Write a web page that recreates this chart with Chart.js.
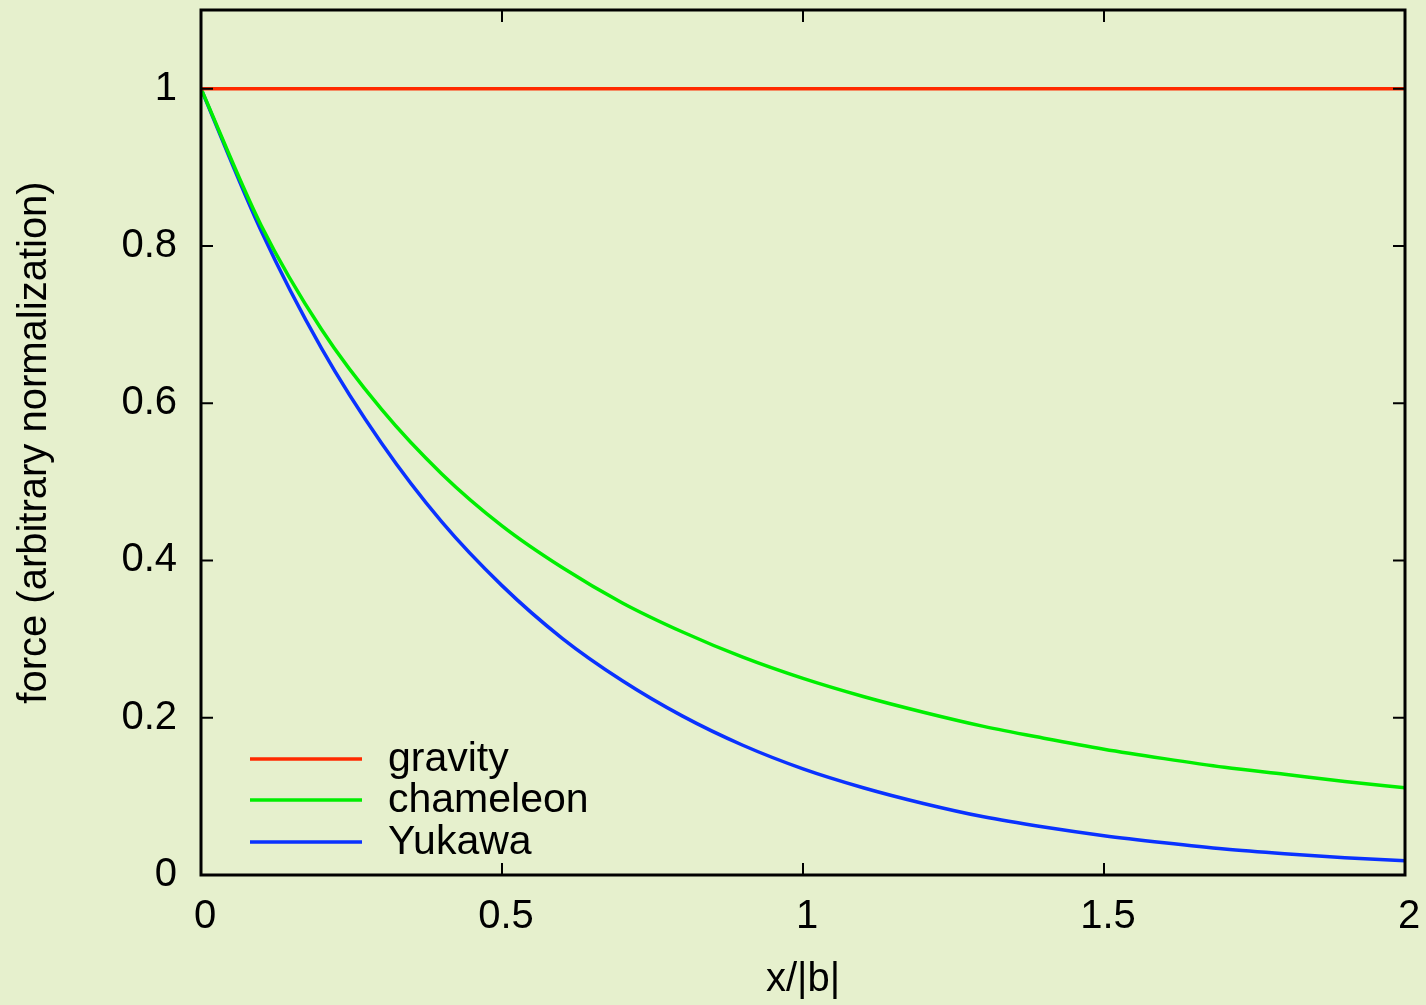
<!DOCTYPE html>
<html>
<head>
<meta charset="utf-8">
<script src="https://cdn.jsdelivr.net/npm/chart.js@4/dist/chart.umd.min.js"></script>
<style>
  html, body { margin: 0; padding: 0; background: #e6f0cd; }
  #wrap { width: 1426px; height: 1005px; }
</style>
</head>
<body>
<div id="wrap"><canvas id="forceChart" width="1426" height="1005"></canvas></div>
<script>
const xValues = [0, 0.1, 0.2, 0.3, 0.4, 0.5, 0.6, 0.7, 0.8, 0.9, 1.0,
                 1.1, 1.2, 1.3, 1.4, 1.5, 1.6, 1.7, 1.8, 1.9, 2.0];
const gravity = [1, 1, 1, 1, 1, 1, 1, 1, 1, 1, 1,
                 1, 1, 1, 1, 1, 1, 1, 1, 1, 1];
const chameleon = [1, 0.826, 0.694, 0.592, 0.510, 0.444, 0.391, 0.346, 0.309, 0.277, 0.250,
                   0.227, 0.207, 0.189, 0.174, 0.160, 0.148, 0.137, 0.128, 0.119, 0.111];
const yukawa = [1, 0.819, 0.670, 0.549, 0.449, 0.368, 0.301, 0.247, 0.202, 0.165, 0.135,
                0.111, 0.091, 0.074, 0.061, 0.050, 0.041, 0.033, 0.027, 0.022, 0.018];
const xTicks = [0, 0.5, 1, 1.5, 2];
const yTicks = [0, 0.2, 0.4, 0.6, 0.8, 1];

const FONT = 'Liberation Sans, Arial, Helvetica, sans-serif';

function points(ys) {
    return xValues.map((x, i) => ({ x: x, y: ys[i] }));
}

// no extra room for half labels, the plot box is fixed
function noPad(s) {
    s.paddingTop = 0;
    s.paddingBottom = 0;
    s.paddingLeft = 0;
    s.paddingRight = 0;
}

// background colour for the whole canvas
const bgPlugin = {
    id: 'bg',
    beforeDraw(chart) {
        const c = chart.ctx;
        c.save();
        c.fillStyle = '#e6f0cd';
        c.fillRect(0, 0, chart.width, chart.height);
        c.restore();
    }
};

// gnuplot style frame with inward ticks on all four sides
const framePlugin = {
    id: 'frame',
    afterDatasetsDraw(chart) {
        const c = chart.ctx;
        const a = chart.chartArea;
        const xs = chart.scales.x, ys = chart.scales.y;
        const len = 12;
        c.save();
        c.strokeStyle = '#000';
        c.lineWidth = 3;
        c.strokeRect(a.left, a.top, a.right - a.left, a.bottom - a.top);
        c.lineWidth = 2;
        c.beginPath();
        xTicks.forEach(v => {
            const px = xs.getPixelForValue(v);
            c.moveTo(px, a.bottom); c.lineTo(px, a.bottom - len);
            c.moveTo(px, a.top); c.lineTo(px, a.top + len);
        });
        yTicks.forEach(v => {
            const py = ys.getPixelForValue(v);
            c.moveTo(a.left, py); c.lineTo(a.left + len, py);
            c.moveTo(a.right, py); c.lineTo(a.right - len, py);
        });
        c.stroke();
        c.restore();
    }
};

// legend inside the plot, bottom left
const legendPlugin = {
    id: 'innerLegend',
    afterDraw(chart) {
        const c = chart.ctx;
        const a = chart.chartArea;
        const rows = [116, 75, 33];
        c.save();
        c.font = '41px ' + FONT;
        c.textBaseline = 'middle';
        c.fillStyle = '#000';
        chart.data.datasets.forEach((ds, i) => {
            const y = a.bottom - rows[i];
            c.strokeStyle = ds.borderColor;
            c.lineWidth = 3.5;
            c.beginPath();
            c.moveTo(a.left + 49, y);
            c.lineTo(a.left + 161, y);
            c.stroke();
            c.fillText(ds.label, a.left + 187, y + 1);
        });
        c.restore();
    }
};

const ctx = document.getElementById('forceChart').getContext('2d');

const chart = new Chart(ctx, {
    type: 'line',
    data: {
        datasets: [
            { label: 'gravity', data: points(gravity), borderColor: '#ff2a00' },
            { label: 'chameleon', data: points(chameleon), borderColor: '#00ee00' },
            { label: 'Yukawa', data: points(yukawa), borderColor: '#0a32ff' }
        ]
    },
    options: {
        responsive: false,
        animation: false,
        events: [],
        layout: { padding: { left: 0, right: 21, top: 10, bottom: 0 } },
        elements: {
            point: { radius: 0 },
            line: { borderWidth: 3.5, cubicInterpolationMode: 'monotone', fill: false }
        },
        plugins: {
            legend: { display: false },
            tooltip: { enabled: false }
        },
        scales: {
            x: {
                type: 'linear',
                min: 0,
                max: 2,
                grid: { display: false, drawTicks: false },
                border: { display: false },
                afterBuildTicks: s => { s.ticks = xTicks.map(v => ({ value: v })); },
                afterFit: s => { s.height = 130; noPad(s); },
                ticks: {
                    color: '#000',
                    padding: 18,
                    labelOffset: 4,
                    maxRotation: 0,
                    font: { family: FONT, size: 40 },
                    callback: v => String(v)
                },
                title: {
                    display: true,
                    text: 'x/|b|',
                    color: '#000',
                    font: { family: FONT, size: 40 },
                    padding: { top: 0, bottom: 1 }
                }
            },
            y: {
                type: 'linear',
                min: 0,
                max: 1.1,
                grid: { display: false, drawTicks: false },
                border: { display: false },
                afterBuildTicks: s => { s.ticks = yTicks.map(v => ({ value: v })); },
                afterFit: s => { s.width = 201; noPad(s); },
                ticks: {
                    color: '#000',
                    padding: 24,
                    font: { family: FONT, size: 40 },
                    callback: v => String(v)
                },
                title: {
                    display: true,
                    text: 'force (arbitrary normalization)',
                    color: '#000',
                    font: { family: FONT, size: 40 },
                    padding: { top: 11, bottom: 0 }
                }
            }
        }
    },
    plugins: [bgPlugin, framePlugin, legendPlugin]
});
</script>
</body>
</html>
